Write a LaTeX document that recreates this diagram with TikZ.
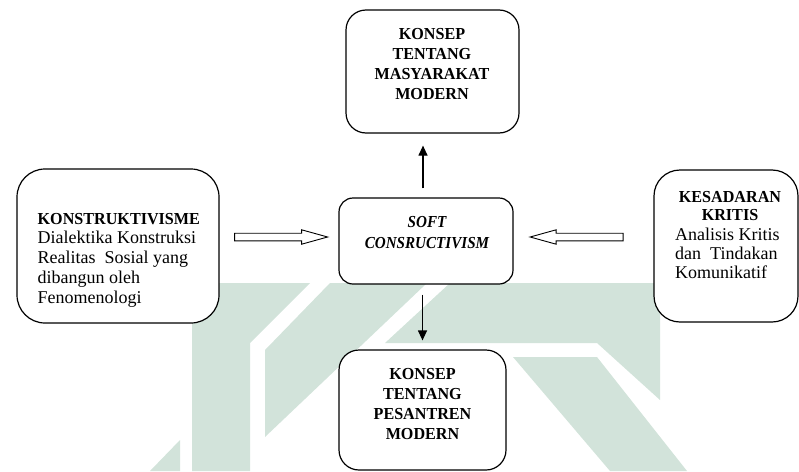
\documentclass[tikz,border=0pt]{standalone}
\usepackage{fontspec}
\setmainfont{Liberation Serif}[BoldFeatures={FakeStretch=0.96},BoldItalicFeatures={FakeStretch=0.9}]
\usetikzlibrary{shapes.arrows,arrows.meta}
\definecolor{wmgreen}{RGB}{210,227,218}
\tikzset{
  box/.style={draw, line width=1.2pt, fill=white, rounded corners=#1, inner sep=0pt},
  box/.default=18pt,
  hollow/.style={single arrow, draw, fill=white, line width=0.9pt, inner xsep=0pt,
    inner ysep=3.35pt, minimum height=93pt, single arrow head extend=3.4pt,
    single arrow tip angle=31},
  arr/.style={-{Triangle[length=10pt,width=9pt]}, line width=1.2pt},
  head/.style={font=\bfseries\fontsize{16.8}{20}\selectfont, inner sep=0pt},
  body/.style={font=\fontsize{18}{20}\selectfont, inner sep=0pt},
}
\begin{document}
\begin{tikzpicture}[x=1pt,y=-1pt]
      \useasboundingbox (0,0) rectangle (799,471);
      \fill[wmgreen] (150,471) -- (180,440) -- (180,471) -- cycle;
      \fill[wmgreen] (192,283) -- (310,283) -- (250,343) -- (250,471) -- (192,471) -- cycle;
      \fill[wmgreen] (330,283) -- (427,283) -- (265,437) -- (265,350) -- cycle;
      \fill[wmgreen] (450,283) -- (660,283) -- (660,400) -- (597,343) -- (385,343) -- cycle;
      \fill[wmgreen] (513,357) -- (597,357) -- (687,471) -- (610,471) -- cycle;
      \draw
        (432.5,71.5) node[box=20pt, minimum width=173pt, minimum height=123pt] (mas){}
        (426,241) node[box=14pt, minimum width=174pt, minimum height=86pt] (soft){}
        (118,246) node[box=28pt, minimum width=202pt, minimum height=154pt] (konstruk){}
        (726,246) node[box=26pt, minimum width=144pt, minimum height=152pt] (kritis){}
        (422.5,410) node[box=20pt, minimum width=167pt, minimum height=120pt] (pes){};
      \node[head, align=center, anchor=north] (masT) at (432,28) {KONSEP\\TENTANG\\MASYARAKAT\\MODERN};
      \node[head, font=\bfseries\itshape\fontsize{16.8}{20.7}\selectfont, align=center, anchor=north] (softT) at (427,216) {SOFT\\CONSRUCTIVISM};
      \node[head, align=center, anchor=north] (pesT) at (422.5,368) {KONSEP\\TENTANG\\PESANTREN\\MODERN};
      \node[body, align=left, anchor=north west] (konstrukT) at (37.5,213)
        {{\bfseries\fontsize{16.8}{20}\selectfont KONSTRUKTIVISME}\\[-0.5pt]Dialektika Konstruksi\\Realitas~ Sosial yang\\dibangun oleh\\Fenomenologi};
      \node[head, font=\bfseries\fontsize{16.8}{18.5}\selectfont, align=center, anchor=north] (kritisT) at (730,191) {KESADARAN\\KRITIS};
      \node[body, font=\fontsize{18}{19}\selectfont, align=left, anchor=north west] (kritisB) at (675,228)
        {Analisis Kritis\\dan~ Tindakan\\Komunikatif};
      \begin{scope}[arr]
        \draw[shorten <=9pt, shorten >=12pt] ([xshift=-3pt]soft.north) to ([xshift=-3pt]soft.north |- mas.south);
        \draw[shorten <=10pt, shorten >=9pt] (soft.south -| pes.north) to (pes.north);
      \end{scope}
      \path (konstruk.east |- soft.west) to node[pos=0.46, hollow, yshift=4pt]{} (soft.west);
      \path (kritis.west |- soft.east) to node[pos=0.5, hollow, shape border rotate=180, yshift=4pt]{} (soft.east);
    \end{tikzpicture}
\end{document}
